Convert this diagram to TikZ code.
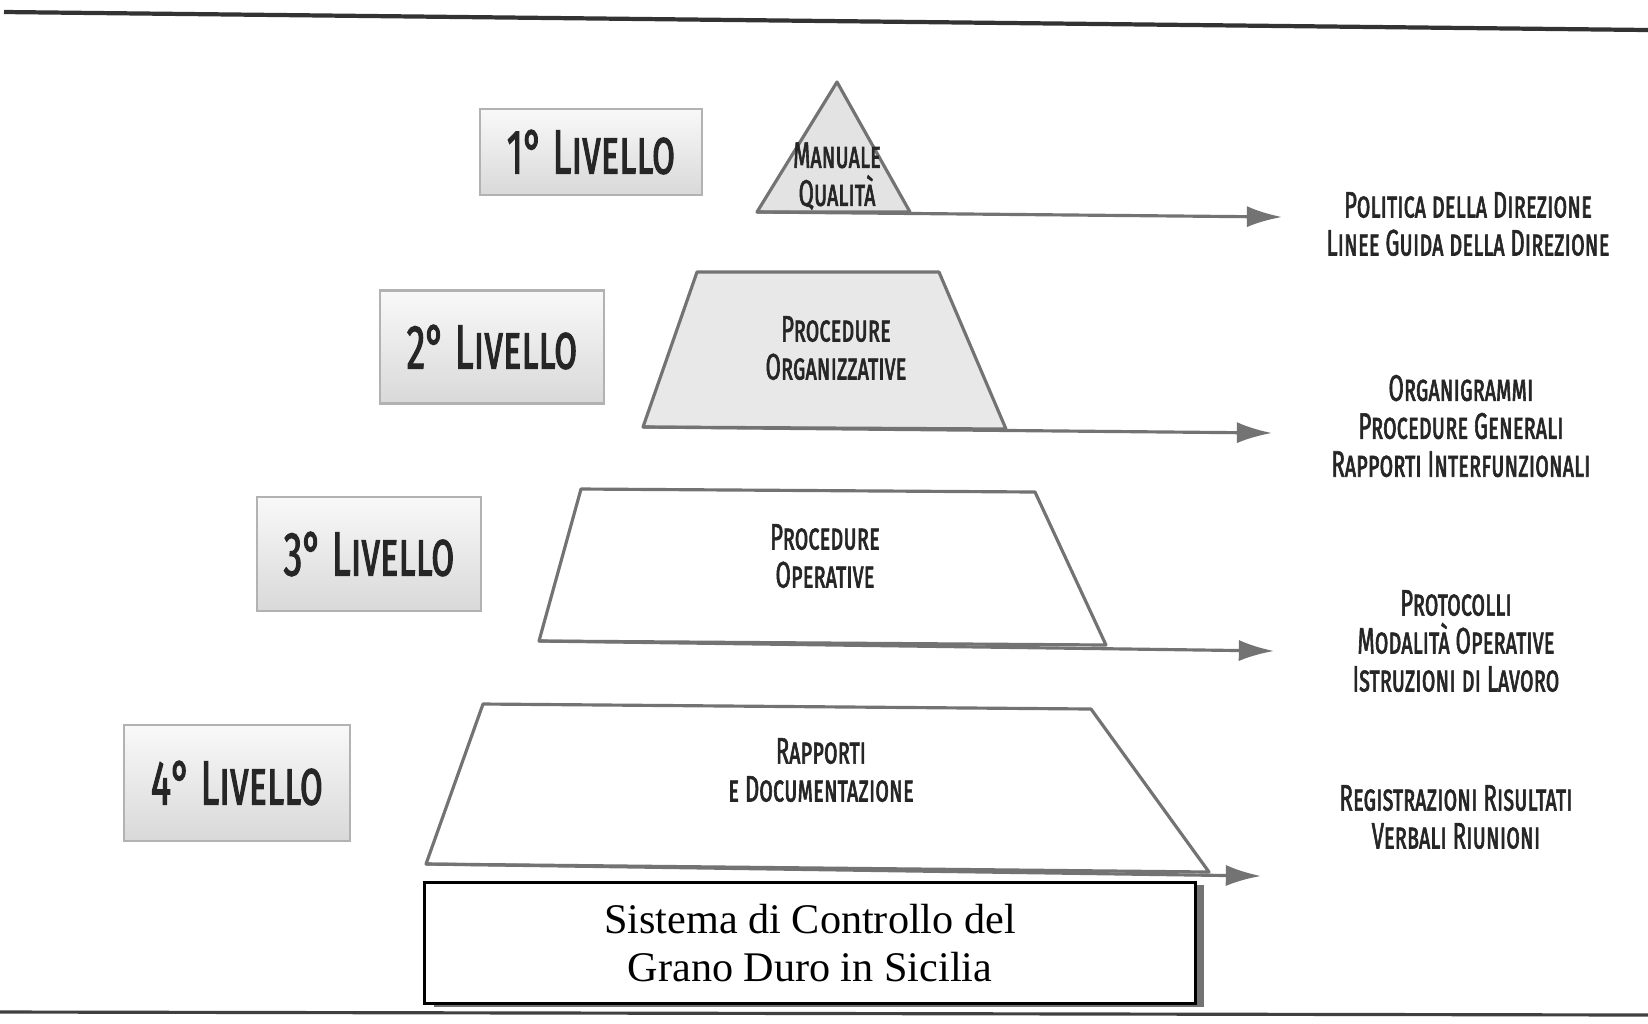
\documentclass[tikz,border=0pt]{standalone}
\usepackage{fontspec}
\setmainfont{Liberation Serif}
\newfontfamily\capsfont[FakeStretch=0.6,FakeBold=1.6,Letters=SmallCaps]{Fira Sans}
\usetikzlibrary{arrows.meta,shadows}
\tikzset{
  level/.style={draw=gray!60, line width=0.6pt, top color=gray!5, bottom color=gray!30,
    font=\capsfont\fontsize{17.8}{20}\selectfont, text=black!85},
  piece/.style={draw=black!55, line width=0.9pt, line join=round},
  flow/.style={draw=black!55, line width=0.9pt, -{Latex[length=10pt,width=6pt]}},
  note/.style={align=center, text=black!85, font=\capsfont\fontsize{10.5}{10.8}\selectfont},
}
\begin{document}
\begin{tikzpicture}[x=0.01cm,y=-0.01cm]
\useasboundingbox (0,0) rectangle (1648,1023);
% Frame lines
\draw[black!80, line width=1.2pt] (4,12) -- (1648,30);
\draw[black!75, line width=0.9pt] (0,1012) -- (1648,1015);
% Levels
\node[level, minimum width=2.22cm, minimum height=0.86cm] (lv1) at (591,152) {1° Livello};
\node[level, minimum width=2.23cm, minimum height=1.13cm] (lv2) at (492,347) {2° Livello};
\node[level, minimum width=2.24cm, minimum height=1.14cm] (lv3) at (369,554) {3° Livello};
\node[level, minimum width=2.25cm, minimum height=1.16cm] (lv4) at (237,783) {4° Livello};
% Pyramid
\coordinate (p1a) at (757,212); \coordinate (p1b) at (837,82); \coordinate (p1c) at (910,212);
\coordinate (p2a) at (643,427); \coordinate (p2b) at (697,272); \coordinate (p2c) at (939,272); \coordinate (p2d) at (1006,429);
\coordinate (p3a) at (539,641); \coordinate (p3b) at (581,489); \coordinate (p3c) at (1035,492); \coordinate (p3d) at (1106,645);
\coordinate (p4a) at (426,864); \coordinate (p4b) at (483,704); \coordinate (p4c) at (1091,709); \coordinate (p4d) at (1209,872);
\draw[piece, fill=gray!22] (p1a) -- (p1b) -- (p1c) -- cycle;
\draw[piece, fill=gray!18] (p2a) -- (p2b) -- (p2c) -- (p2d) -- cycle;
\draw[piece, fill=white] (p3a) -- (p3b) -- (p3c) -- (p3d) -- cycle;
\draw[piece, fill=white] (p4a) -- (p4b) -- (p4c) -- (p4d) -- cycle;
\node[note] (m1) at (837,176) {Manuale\\Qualità};
\node[note] (m2) at (836,348) {Procedure\\Organizzative};
\node[note] (m3) at (825,556) {Procedure\\Operative};
\node[note] (m4) at (821,770) {Rapporti\\e Documentazione};
% Arrows
\coordinate (e1) at (1282,217);
\coordinate (e2) at (1272,433);
\coordinate (e3) at (1274,651);
\coordinate (e4) at (1261,876);
\draw[flow] (p1a) -- (e1);
\draw[flow] (p2a) -- (e2);
\draw[flow] (p3a) -- (e3);
\draw[flow] (p4a) -- (e4);
% Outputs
\node[note] (o1) at (1468,224) {Politica della Direzione\\Linee Guida della Direzione};
\node[note] (o2) at (1461,426) {Organigrammi\\Procedure Generali\\Rapporti Interfunzionali};
\node[note] (o3) at (1456,641) {Protocolli\\Modalità Operative\\Istruzioni di Lavoro};
\node[note] (o4) at (1456,817) {Registrazioni Risultati\\Verbali Riunioni};
% Title
\node[draw=black, line width=0.8pt, fill=white, minimum width=7.7cm, minimum height=1.21cm,
  align=center, font=\fontsize{12}{13.7}\selectfont,
  drop shadow={shadow xshift=0.09cm, shadow yshift=-0.03cm, fill=black!55, opacity=1}]
  (title) at (810,943) {Sistema di Controllo del\\Grano Duro in Sicilia};
\end{tikzpicture}
\end{document}
